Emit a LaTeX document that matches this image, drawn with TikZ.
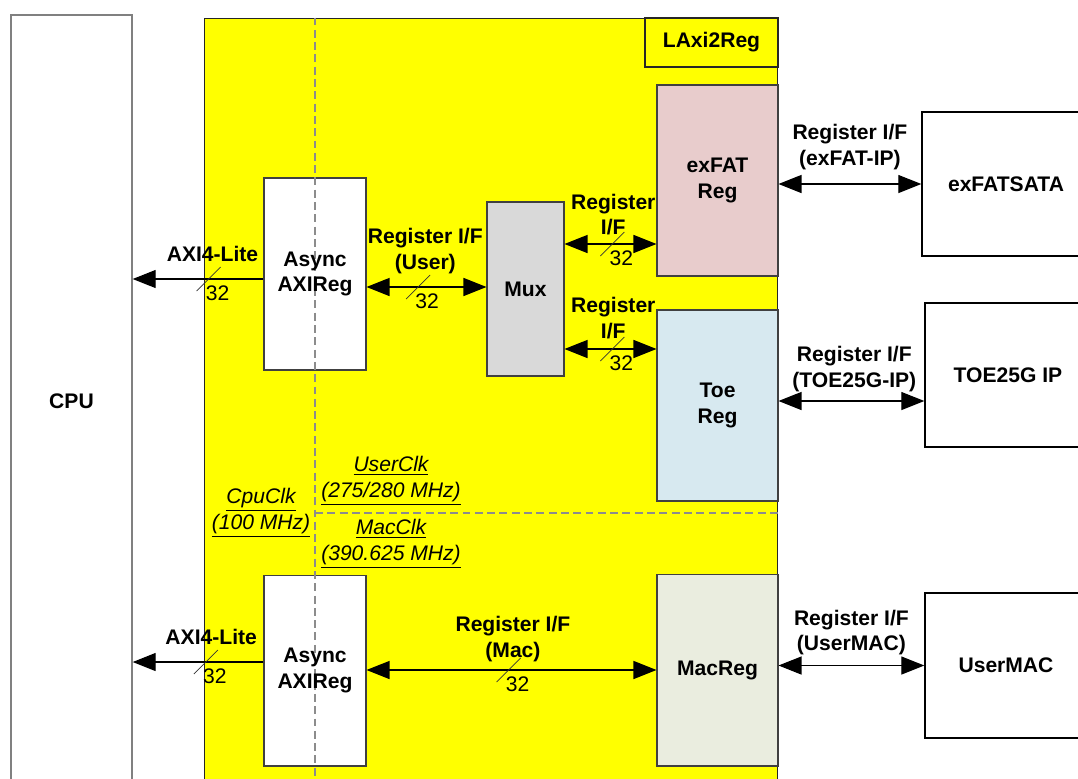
\documentclass[tikz,border=0pt]{standalone}
\usepackage{fontspec}
\setmainfont{Liberation Sans}
\usetikzlibrary{positioning,arrows.meta}

\definecolor{ipyellow}{RGB}{255,255,0}
\definecolor{exfatpink}{RGB}{232,204,204}
\definecolor{toeblue}{RGB}{215,233,240}
\definecolor{macgreen}{RGB}{234,237,223}
\definecolor{muxgray}{RGB}{217,217,217}

\begin{document}
\begin{tikzpicture}[
    x=0.02cm, y=-0.02cm,
    font=\fontsize{12}{14.5}\selectfont,
    box/.style={rectangle, draw=black!75, line width=0.6pt, inner sep=0pt, align=center, font=\fontsize{12}{14.5}\selectfont\bfseries},
    ip/.style={box, draw=black, line width=0.8pt, fill=white, minimum height=2.88cm},
    lbl/.style={align=center, inner sep=0pt, font=\fontsize{12}{14.5}\selectfont\bfseries},
    clk/.style={align=center, inner sep=0pt, font=\fontsize{12}{14.5}\selectfont\itshape},
    bus/.style={{Triangle[length=0.46cm,width=0.36cm]}-{Triangle[length=0.46cm,width=0.36cm]}, line width=0.7pt},
    axi/.style={-{Triangle[length=0.46cm,width=0.36cm]}, line width=0.7pt},
    clkline/.style={draw=black!45, line width=0.6pt, dash pattern=on 4.5pt off 2.5pt},
    pics/buswidth/.style={code={
        \draw[-, line width=0.4pt, black!80] (-12,12) -- (12,-12);
        \node[inner sep=0pt] at (9,14) {#1};
    }}
]
    \useasboundingbox (0,0) rectangle (1078,778);
    \clip (0,0) rectangle (1078,778);

    % CPU
    \node[box, draw=black!50, line width=0.8pt, fill=white, minimum width=2.42cm, minimum height=15.44cm] (cpu) at (71.5,401) {CPU};

    % LAxi2Reg
    \node[box, draw=black!85, fill=ipyellow, minimum width=11.48cm, minimum height=15.6cm] (laxi) at (491,408) {};
    \node[box, draw=black!85, fill=ipyellow, minimum width=2.66cm, minimum height=0.98cm] (name) at (711.5,42.5) {LAxi2Reg};

    \node[box, fill=white, minimum width=2.04cm, minimum height=3.84cm] (async1) at (315,274) {};
    \node[box, fill=white, minimum width=2.04cm, minimum height=3.82cm] (async2) at (315,670.5) {};
    \node[box, fill=muxgray, minimum width=1.54cm, minimum height=3.48cm] (mux) at (525.5,289) {Mux};
    \node[box, fill=exfatpink, minimum width=2.42cm, minimum height=3.82cm] (exfat) at (717.5,180.5) {exFAT\\Reg};
    \node[box, fill=toeblue, minimum width=2.42cm, minimum height=3.82cm] (toe) at (717.5,405.5) {Toe\\Reg};
    \node[box, fill=macgreen, minimum width=2.42cm, minimum height=3.84cm] (macreg) at (717.5,670) {MacReg};

    % IP cores
    \node[ip, minimum width=3.36cm] (sata) at (1006,184) {exFATSATA};
    \node[ip, minimum width=3.32cm] (toeip) at (1008,375) {TOE25G IP};
    \node[ip, minimum width=3.24cm, minimum height=2.9cm] (umac) at (1006,665.5) {UserMAC};

    % clock domains
    \draw[clkline] (async1 |- laxi.north) -- (async1 |- laxi.south);
    \draw[clkline] (async1 |- 0,513) -- (laxi.east |- 0,513);
    \node[lbl] (async1txt) at (async1) {Async\\AXIReg};
    \node[lbl] (async2txt) at (async2) {Async\\AXIReg};

    \node[clk] (cpuclk) at (261,513) {\underline{CpuClk}\\\underline{(100 MHz)}};
    \node[clk] (usrclk) at (391,481) {\underline{UserClk}\\\underline{(275/280 MHz)}};
    \node[clk] (macclk) at (391,544) {\underline{MacClk}\\\underline{(390.625 MHz)}};

    % register interfaces
    \draw[axi] (async1.west |- 0,279) -- (cpu.east |- 0,279)
        node[lbl, pos=0.39, above=0.33cm] (axi1) {AXI4-Lite} pic[pos=0.42] {buswidth=32};
    \draw[axi] (async2.west |- 0,662) -- (cpu.east |- 0,662)
        node[lbl, pos=0.40, above=0.33cm] (axi2) {AXI4-Lite} pic[pos=0.44] {buswidth=32};
    \draw[bus] (async1.east |- 0,287) -- (mux.west |- 0,287)
        node[lbl, pos=0.49, above=0.26cm] (usr) {Register I/F\\(User)} pic[pos=0.43] {buswidth=32};
    \draw[bus] (mux.east |- 0,244) -- (exfat.west |- 0,244)
        node[lbl, pos=0.53, above=0.16cm] (mx1) {Register\\I/F} pic[pos=0.52] {buswidth=32};
    \draw[bus] (mux.east |- 0,349) -- (toe.west |- 0,349)
        node[lbl, pos=0.53, above=0.19cm] (mx2) {Register\\I/F} pic[pos=0.52] {buswidth=32};
    \draw[bus] (async2.east |- macreg) -- (macreg.west)
        node[lbl, pos=0.505, above=0.16cm] (mac) {Register I/F\\(Mac)} pic[pos=0.49] {buswidth=32};

    \draw[bus] (exfat.east |- sata) -- (sata.west)
        node[lbl, midway, above=0.28cm] (ipif1) {Register I/F\\(exFAT-IP)};
    \draw[bus] (toe.east |- 0,401) -- (toeip.west |- 0,401)
        node[lbl, pos=0.52, above=0.18cm] (ipif2) {Register I/F\\(TOE25G-IP)};
    \draw[bus] (macreg.east |- umac) -- (umac.west)
        node[lbl, midway, above=0.2cm] (ipif3) {Register I/F\\(UserMAC)};
\end{tikzpicture}
\end{document}
